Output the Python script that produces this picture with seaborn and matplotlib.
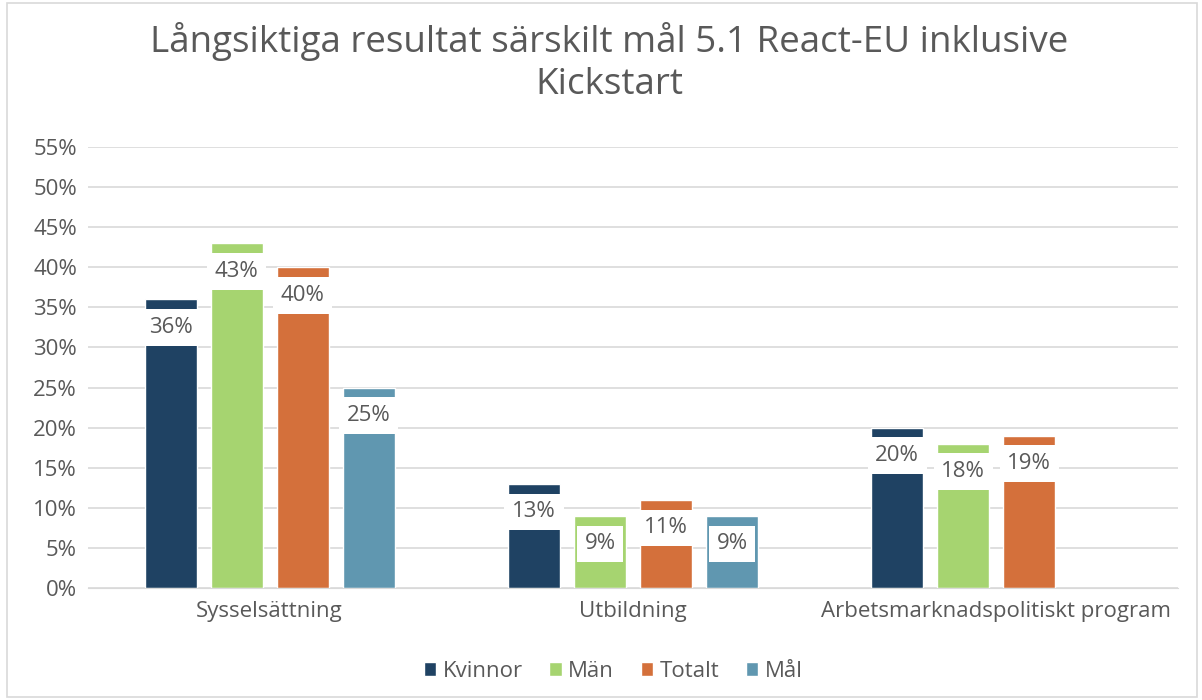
import matplotlib
matplotlib.use("Agg")
import matplotlib.pyplot as plt
import seaborn as sns
import pandas as pd
import numpy as np
from matplotlib.patches import Rectangle
from matplotlib.ticker import PercentFormatter

categories = ["Sysselsättning", "Utbildning", "Arbetsmarknadspolitiskt program"]
series = ["Kvinnor", "Män", "Totalt", "Mål"]
kvinnor = [0.36, 0.13, 0.20]
man = [0.43, 0.09, 0.18]
totalt = [0.40, 0.11, 0.19]
mal = [0.25, 0.09, np.nan]
colors = ["#1F4263", "#A6D470", "#D4703B", "#6097B0"]

rows = []
for name, vals in zip(series, [kvinnor, man, totalt, mal]):
    for cat, v in zip(categories, vals):
        rows.append({"Kategori": cat, "Serie": name, "Andel": v})
df = pd.DataFrame(rows)

sns.set_style("white")
plt.rcParams["font.family"] = ["Open Sans", "DejaVu Sans"]
txt = "#595959"
fs = 16

fig = plt.figure(figsize=(12.02, 7), dpi=100)
ax = fig.add_axes([0.0732, 0.16, 0.9068, 0.63])

sns.barplot(data=df, x="Kategori", y="Andel", hue="Serie", hue_order=series,
            palette=colors, width=0.727, gap=0.21, saturation=1, ax=ax, legend=True)

ax.set_ylim(0, 0.55)
ax.set_yticks(np.arange(0, 0.5501, 0.05))
ax.yaxis.set_major_formatter(PercentFormatter(1.0, decimals=0))
ax.grid(axis="y", color="#D9D9D9", linewidth=1.2)
ax.set_axisbelow(True)
for s in ["top", "right", "left"]:
    ax.spines[s].set_visible(False)
ax.spines["bottom"].set_color("#D9D9D9")
ax.tick_params(axis="both", length=0, labelsize=fs, colors=txt, pad=8)
ax.tick_params(axis="x", pad=9)
ax.set_xlabel("")
ax.set_ylabel("")

# value labels in white boxes
for cont in ax.containers:
    for bar in cont:
        h = bar.get_height()
        if np.isnan(h) or h == 0:
            continue
        x = bar.get_x() + bar.get_width() / 2
        ax.text(x, h - 0.035, f"{h*100:.0f}%", ha="center", va="center",
                fontsize=fs, color=txt,
                bbox=dict(facecolor="white", edgecolor="none", boxstyle="square,pad=0.35"))

leg = ax.legend(loc="upper center", bbox_to_anchor=(0.482, -0.12), ncol=4, frameon=False,
                fontsize=fs, handlelength=0.55, handleheight=0.55, handletextpad=0.3,
                columnspacing=1.2)
for t in leg.get_texts():
    t.set_color(txt)

fig.suptitle("Långsiktiga resultat särskilt mål 5.1 React-EU inklusive\nKickstart",
             x=0.507, y=0.968, fontsize=26.5, color=txt, linespacing=1.2)

fig.patches.append(Rectangle((0.006, 0.004), 0.99, 0.992, transform=fig.transFigure,
                             fill=False, edgecolor="#D9D9D9", linewidth=1.2))

fig.savefig("out.png", dpi=100)
